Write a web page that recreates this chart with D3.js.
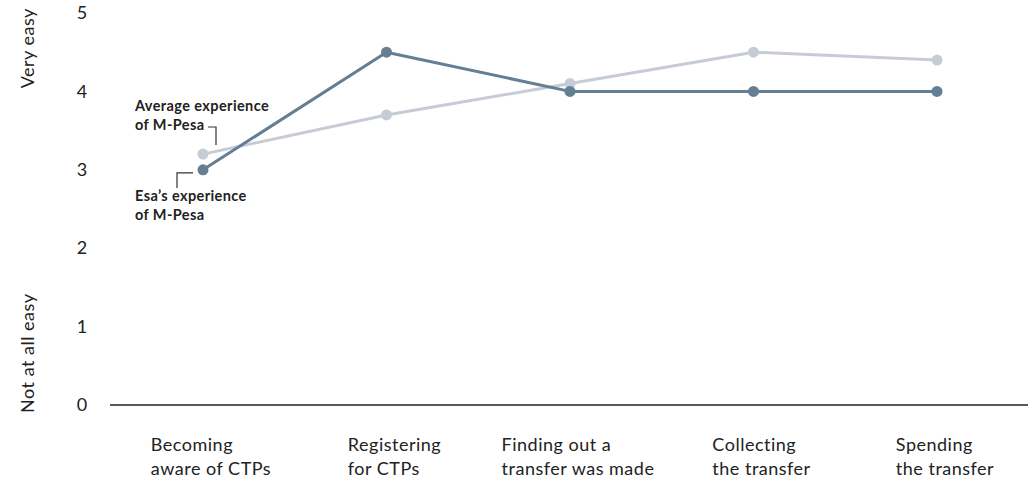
<!DOCTYPE html>
<html>
<head>
<meta charset="utf-8">
<script src="https://cdn.jsdelivr.net/npm/d3@7"></script>
<style>
  html, body { margin: 0; padding: 0; background: #fff; }
  svg { display: block; font-family: "Lato", "Noto Sans", sans-serif; }
</style>
</head>
<body>
<svg id="chart" width="1035" height="485"></svg>
<script>
// Steps of the cash-transfer journey
const stages = [
  ["Becoming", "aware of CTPs"],
  ["Registering", "for CTPs"],
  ["Finding out a", "transfer was made"],
  ["Collecting", "the transfer"],
  ["Spending", "the transfer"]
];
const stageKeys = stages.map(d => d.join(" "));

// Ease ratings (0 = not at all easy, 5 = very easy)
const averageScores = [3.2, 3.7, 4.1, 4.5, 4.4];
const esaScores = [3.0, 4.5, 4.0, 4.0, 4.0];

const yTicks = [0, 1, 2, 3, 4, 5];
const yAxisLabels = { low: "Not at all easy", high: "Very easy" };
const seriesNotes = {
  average: ["Average experience", "of M-Pesa"],
  esa: ["Esa\u2019s experience", "of M-Pesa"]
};

const svg = d3.select("#chart");
const textColor = "#222";
const esaColor = "#647f94";
const avgColor = "#c6ccd6";

const x = d3.scalePoint().domain(stageKeys).range([203, 937]);
const y = d3.scaleLinear().domain([0, 5]).range([405, 13]);

// Baseline
svg.append("line")
  .attr("x1", 110).attr("x2", 1028)
  .attr("y1", y(0)).attr("y2", y(0))
  .attr("stroke", "#222").attr("stroke-width", 1.3);

// Y tick labels
const yAxis = d3.axisLeft(y).tickValues(yTicks).tickFormat(d3.format("d"))
  .tickSize(0).tickPadding(0);
const yg = svg.append("g").attr("transform", "translate(88,0)").call(yAxis);
yg.select(".domain").remove();
yg.selectAll("text")
  .attr("text-anchor", "middle")
  .attr("x", -6)
  .attr("fill", textColor)
  .style("font-size", "18px")
  .style("font-family", "Lato, sans-serif");

// Rotated end labels on the y axis
const axisTitle = (label, v) => svg.append("text")
  .attr("transform", `translate(34,${y(v)}) rotate(-90)`)
  .attr("text-anchor", "middle")
  .attr("fill", textColor)
  .style("font-size", "18px")
  .style("letter-spacing", "0.5px")
  .text(label);
axisTitle(yAxisLabels.high, 4.55);
axisTitle(yAxisLabels.low, 0.66);

// Category labels: two lines, block centred under each point
const catG = svg.append("g");
stages.forEach((lines, i) => {
  const g = catG.append("g");
  const t = g.append("text")
    .attr("fill", textColor)
    .style("font-size", "18px")
    .style("letter-spacing", "0.5px");
  lines.forEach((ln, j) => {
    t.append("tspan").attr("x", 0).attr("y", 451 + j * 24).text(ln);
  });
  const w = d3.max(t.selectAll("tspan").nodes(), n => n.getComputedTextLength());
  g.attr("transform", `translate(${x(stageKeys[i]) - w / 2 + 8},0)`);
});

// Lines and points
const line = d3.line()
  .x((d, i) => x(stageKeys[i]))
  .y(d => y(d));

function drawSeries(values, color) {
  svg.append("path")
    .datum(values)
    .attr("fill", "none")
    .attr("stroke", color)
    .attr("stroke-width", 3)
    .attr("stroke-linejoin", "round")
    .attr("d", line);
  svg.append("g").selectAll("circle")
    .data(values)
    .join("circle")
    .attr("cx", (d, i) => x(stageKeys[i]))
    .attr("cy", d => y(d))
    .attr("r", 5.5)
    .attr("fill", color);
}
drawSeries(averageScores, avgColor);
drawSeries(esaScores, esaColor);

// Series annotations with leader lines
const noteG = svg.append("g")
  .attr("fill", textColor)
  .style("font-size", "14.5px")
  .style("font-weight", "700")
  .style("letter-spacing", "0.4px");

const avgNote = noteG.append("text");
seriesNotes.average.forEach((ln, j) => {
  avgNote.append("tspan").attr("x", 135).attr("y", 111 + j * 19).text(ln);
});
const avgY = y(averageScores[0]);
svg.append("path")
  .attr("d", `M208,127H216V${avgY - 9}`)
  .attr("fill", "none").attr("stroke", "#333").attr("stroke-width", 1.2);

const esaNote = noteG.append("text");
seriesNotes.esa.forEach((ln, j) => {
  esaNote.append("tspan").attr("x", 135).attr("y", 201 + j * 19).text(ln);
});
const esaY = y(esaScores[0]);
svg.append("path")
  .attr("d", `M177,188V${esaY + 3}H193`)
  .attr("fill", "none").attr("stroke", "#333").attr("stroke-width", 1.2);
</script>
</body>
</html>
